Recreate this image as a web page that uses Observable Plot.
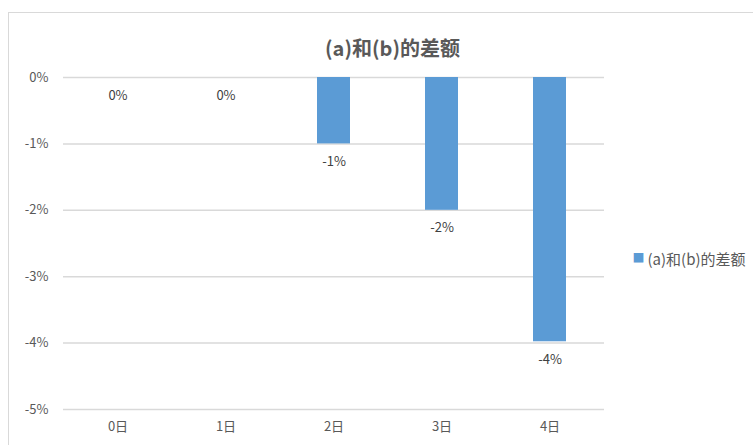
<!DOCTYPE html>
<html><head><meta charset="utf-8">
<script src="https://cdn.jsdelivr.net/npm/d3@7"></script>
<script src="https://cdn.jsdelivr.net/npm/@observablehq/plot@0.6"></script>
<style>
body{margin:0;background:#fff;overflow:hidden}
#wrap{position:relative;width:753px;height:445px}
#frame{position:absolute;left:8px;top:12px;width:800px;height:500px;border:1px solid #d9d9d9;box-sizing:border-box}
#chart{position:absolute;left:0;top:0}
</style></head>
<body><div id="wrap"><div id="frame"></div><div id="chart"></div></div>
<script>
const title = "(a)和(b)的差额";
const seriesName = "(a)和(b)的差额";
const categories = ["0日","1日","2日","3日","4日"];
const values = [0, 0, -0.01, -0.02, -0.0398];
const yTicks = [0, -0.01, -0.02, -0.03, -0.04, -0.05];

const data = categories.map((c,i)=>({cat:c, v:values[i]}));
const font = "'Liberation Sans Narrow','Noto Sans CJK SC',sans-serif";
const pct = d3.formatLocale({decimal: ".", thousands: ",", grouping: [3], currency: ["", ""], minus: "-"}).format(".0%");
const fmt = v => pct(Math.round(v*100)/100 + 0);

const plot = Plot.plot({
  width: 753, height: 445,
  marginLeft: 63, marginRight: 149, marginTop: 77, marginBottom: 36,
  style: {fontFamily: font, fontSize: "13px", color: "#595959", background: "transparent"},
  x: {domain: categories, paddingInner: 0.69, paddingOuter: 0.345, label: null, tickSize: 0, tickPadding: 12},
  y: {domain: [-0.05, 0], ticks: yTicks, tickFormat: d => fmt(d), label: null, tickSize: 0, tickPadding: 15},
  marks: [
    Plot.gridY(yTicks, {stroke: "#d9d9d9", strokeOpacity: 1, strokeWidth: 1.5}),
    Plot.barY(data, {x: "cat", y: "v", fill: "#5b9bd5"}),
    Plot.text(data, {x: "cat", y: "v", text: d => fmt(d.v), dy: 18, fill: "#404040", fontSize: 13}),
    Plot.text([title], {frameAnchor: "top-left", dx: 392 - 63, dy: -36, text: d => d, fontSize: 20, fontWeight: 600, fill: "#595959", textAnchor: "middle"}),
    Plot.text([seriesName], {frameAnchor: "top-left", dx: 647 - 63, dy: 177, text: d => d, fontSize: 15, fill: "#595959", textAnchor: "start"}),
    Plot.text(["■"], {frameAnchor: "top-left", dx: 638 - 63, dy: 177, text: d => d, fontSize: 12, fill: "#5b9bd5", textAnchor: "middle"})
  ]
});
document.getElementById("chart").appendChild(plot);
</script></body></html>
